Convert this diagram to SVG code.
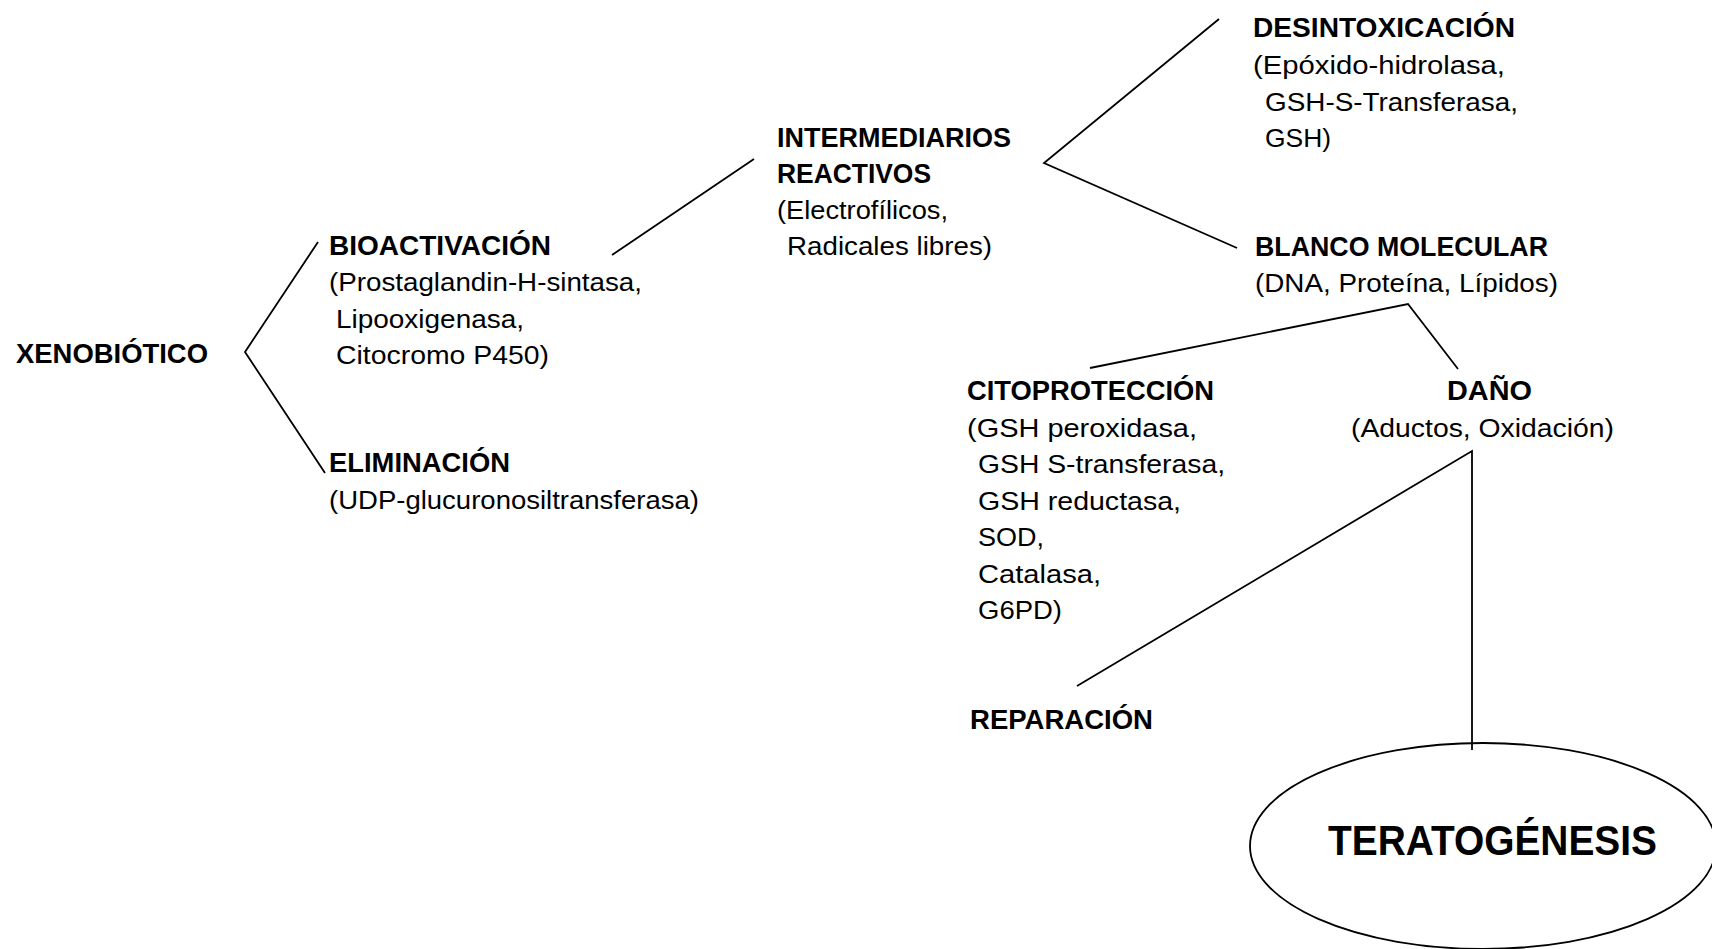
<svg xmlns="http://www.w3.org/2000/svg" width="1712" height="949" viewBox="0 0 1712 949">
<style>
.b{font-family:"Liberation Sans",Arial,sans-serif;font-weight:bold;font-size:27px;fill:#000}
.r{font-family:"Liberation Sans",Arial,sans-serif;font-size:26px;fill:#000}
.t{font-family:"Liberation Sans",Arial,sans-serif;font-weight:bold;font-size:42px;fill:#000}
.c{fill:none;stroke:#000;stroke-width:1.8;stroke-linejoin:miter}
</style>
<rect width="1712" height="949" fill="#fff"/>
<g id="connectors">
<polyline class="c" points="318,242 245,352 325,473"/>
<line class="c" x1="612" y1="255" x2="754" y2="159"/>
<polyline class="c" points="1219,19 1044,163 1237,248"/>
<polyline class="c" points="1090,368 1408,304 1458,369"/>
<polyline class="c" points="1077,686 1472,451 1472,750"/>
</g>
<g id="xenobiotico">
<text class="b" x="16" y="363" textLength="192" lengthAdjust="spacingAndGlyphs">XENOBIÓTICO</text>
</g>
<g id="bioactivacion">
<text class="b" x="329" y="255" textLength="222" lengthAdjust="spacingAndGlyphs">BIOACTIVACIÓN</text>
<text class="r" x="329" y="291" textLength="313" lengthAdjust="spacingAndGlyphs">(Prostaglandin-H-sintasa,</text>
<text class="r" x="336" y="328" textLength="188" lengthAdjust="spacingAndGlyphs">Lipooxigenasa,</text>
<text class="r" x="336" y="364" textLength="213" lengthAdjust="spacingAndGlyphs">Citocromo P450)</text>
</g>
<g id="eliminacion">
<text class="b" x="329" y="472" textLength="181" lengthAdjust="spacingAndGlyphs">ELIMINACIÓN</text>
<text class="r" x="329" y="509" textLength="370" lengthAdjust="spacingAndGlyphs">(UDP-glucuronosiltransferasa)</text>
</g>
<g id="intermediarios">
<text class="b" x="777" y="147" textLength="234" lengthAdjust="spacingAndGlyphs">INTERMEDIARIOS</text>
<text class="b" x="777" y="183" textLength="154" lengthAdjust="spacingAndGlyphs">REACTIVOS</text>
<text class="r" x="777" y="219" textLength="171" lengthAdjust="spacingAndGlyphs">(Electrofílicos,</text>
<text class="r" x="787" y="255" textLength="205" lengthAdjust="spacingAndGlyphs">Radicales libres)</text>
</g>
<g id="desintoxicacion">
<text class="b" x="1253" y="37" textLength="262" lengthAdjust="spacingAndGlyphs">DESINTOXICACIÓN</text>
<text class="r" x="1253" y="74" textLength="252" lengthAdjust="spacingAndGlyphs">(Epóxido-hidrolasa,</text>
<text class="r" x="1265" y="111" textLength="253" lengthAdjust="spacingAndGlyphs">GSH-S-Transferasa,</text>
<text class="r" x="1265" y="147" textLength="66" lengthAdjust="spacingAndGlyphs">GSH)</text>
</g>
<g id="blanco">
<text class="b" x="1255" y="256" textLength="293" lengthAdjust="spacingAndGlyphs">BLANCO MOLECULAR</text>
<text class="r" x="1255" y="292" textLength="303" lengthAdjust="spacingAndGlyphs">(DNA, Proteína, Lípidos)</text>
</g>
<g id="citoproteccion">
<text class="b" x="967" y="400" textLength="247" lengthAdjust="spacingAndGlyphs">CITOPROTECCIÓN</text>
<text class="r" x="967" y="437" textLength="230" lengthAdjust="spacingAndGlyphs">(GSH peroxidasa,</text>
<text class="r" x="978" y="473" textLength="247" lengthAdjust="spacingAndGlyphs">GSH S-transferasa,</text>
<text class="r" x="978" y="510" textLength="203" lengthAdjust="spacingAndGlyphs">GSH reductasa,</text>
<text class="r" x="978" y="546" textLength="66" lengthAdjust="spacingAndGlyphs">SOD,</text>
<text class="r" x="978" y="583" textLength="123" lengthAdjust="spacingAndGlyphs">Catalasa,</text>
<text class="r" x="978" y="619" textLength="84" lengthAdjust="spacingAndGlyphs">G6PD)</text>
</g>
<g id="dano">
<text class="b" x="1447" y="400" textLength="85" lengthAdjust="spacingAndGlyphs">DAÑO</text>
<text class="r" x="1351" y="437" textLength="263" lengthAdjust="spacingAndGlyphs">(Aductos, Oxidación)</text>
</g>
<g id="reparacion">
<text class="b" x="970" y="729" textLength="183" lengthAdjust="spacingAndGlyphs">REPARACIÓN</text>
</g>
<g id="teratogenesis">
<ellipse class="c" cx="1483" cy="846" rx="233" ry="103"/>
<text class="t" x="1328" y="855" textLength="329" lengthAdjust="spacingAndGlyphs">TERATOGÉNESIS</text>
</g>
</svg>
